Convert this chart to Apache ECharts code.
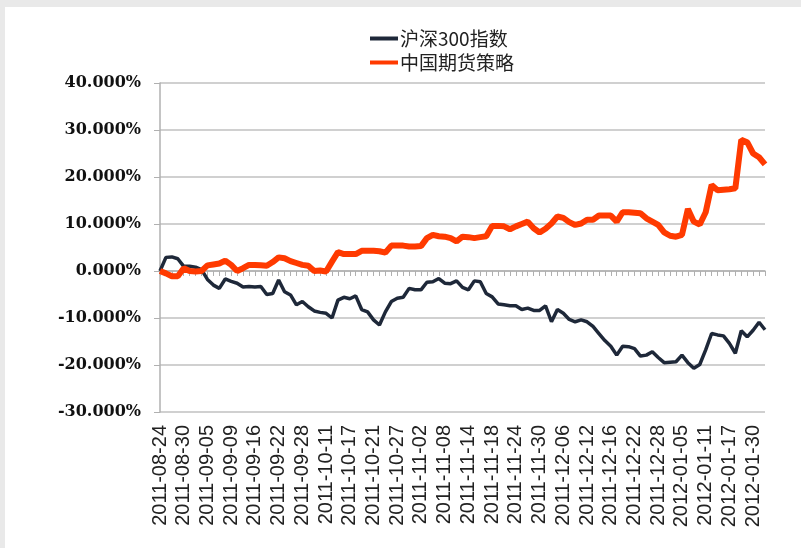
<!DOCTYPE html>
<html>
<head>
<meta charset="utf-8">
<script src="https://cdn.jsdelivr.net/npm/echarts@6/dist/echarts.min.js"></script>
<style>
    html, body { margin: 0; padding: 0; background: #e9e9e9; }
    #main { position: absolute; left: 5px; top: 7px; width: 796px; height: 541px; background: #fff; }
</style>
</head>
<body>
<div id="main"></div>
<script>
// 交易日
var dates = [
    "2011-08-24", "2011-08-25", "2011-08-26", "2011-08-29", "2011-08-30", "2011-08-31",
    "2011-09-01", "2011-09-02", "2011-09-05", "2011-09-06", "2011-09-07", "2011-09-08", "2011-09-09",
    "2011-09-13", "2011-09-14", "2011-09-15", "2011-09-16", "2011-09-19", "2011-09-20", "2011-09-21",
    "2011-09-22", "2011-09-23", "2011-09-26", "2011-09-27", "2011-09-28", "2011-09-29", "2011-09-30",
    "2011-10-10", "2011-10-11", "2011-10-12", "2011-10-13", "2011-10-14", "2011-10-17", "2011-10-18",
    "2011-10-19", "2011-10-20", "2011-10-21", "2011-10-24", "2011-10-25", "2011-10-26", "2011-10-27",
    "2011-10-28", "2011-10-31", "2011-11-01", "2011-11-02", "2011-11-03", "2011-11-04", "2011-11-07",
    "2011-11-08", "2011-11-09", "2011-11-10", "2011-11-11", "2011-11-14", "2011-11-15", "2011-11-16",
    "2011-11-17", "2011-11-18", "2011-11-21", "2011-11-22", "2011-11-23", "2011-11-24", "2011-11-25",
    "2011-11-28", "2011-11-29", "2011-11-30", "2011-12-01", "2011-12-02", "2011-12-05", "2011-12-06",
    "2011-12-07", "2011-12-08", "2011-12-09", "2011-12-12", "2011-12-13", "2011-12-14", "2011-12-15",
    "2011-12-16", "2011-12-19", "2011-12-20", "2011-12-21", "2011-12-22", "2011-12-23", "2011-12-26",
    "2011-12-27", "2011-12-28", "2011-12-29", "2011-12-30", "2012-01-04", "2012-01-05", "2012-01-06",
    "2012-01-09", "2012-01-10", "2012-01-11", "2012-01-12", "2012-01-13", "2012-01-16", "2012-01-17",
    "2012-01-18", "2012-01-19", "2012-01-20", "2012-01-30", "2012-01-31", "2012-02-01"
];

// 沪深300指数 累计收益(%)
var hs300 = [
    0, 2.9, 3.0, 2.6, 1.0, 1.0, 0.8, 0.3, -1.8, -3.0, -3.7, -1.7, -2.2, -2.6, -3.4, -3.3, -3.4, -3.3,
    -5.0, -4.8, -1.9, -4.4, -5.1, -7.2, -6.5, -7.6, -8.5, -8.8, -9.0, -10.0, -6.2, -5.6, -5.9, -5.3,
    -8.2, -8.7, -10.4, -11.5, -8.7, -6.5, -5.8, -5.6, -3.7, -4.0, -4.0, -2.4, -2.3, -1.6, -2.6, -2.7,
    -2.1, -3.5, -4.0, -2.1, -2.3, -4.8, -5.5, -7.0, -7.2, -7.4, -7.4, -8.2, -7.9, -8.4, -8.4, -7.4,
    -10.8, -8.2, -9.0, -10.3, -10.8, -10.4, -10.8, -11.8, -13.3, -14.8, -16.0, -17.9, -16.0, -16.1,
    -16.5, -18.1, -17.9, -17.2, -18.4, -19.5, -19.4, -19.3, -17.9, -19.5, -20.7, -19.9, -16.8, -13.3,
    -13.6, -13.8, -15.4, -17.5, -12.7, -14.0, -12.6, -10.9, -12.5
];

// 中国期货策略 累计收益(%)
var futures = [
    0, -0.5, -1.1, -1.1, 0.6, 0.0, -0.1, 0.0, 1.2, 1.4, 1.6, 2.2, 1.3, 0.0, 0.6, 1.3, 1.3, 1.2,
    1.1, 1.9, 2.9, 2.7, 2.1, 1.7, 1.3, 1.1, 0.0, 0.1, -0.1, 2.0, 4.0, 3.6, 3.6, 3.6, 4.3, 4.3,
    4.3, 4.2, 3.9, 5.4, 5.4, 5.4, 5.2, 5.2, 5.3, 7.0, 7.7, 7.4, 7.3, 7.0, 6.3, 7.3, 7.2, 7.0,
    7.2, 7.4, 9.6, 9.6, 9.5, 8.9, 9.5, 10.0, 10.5, 9.1, 8.2, 9.0, 10.1, 11.6, 11.3, 10.4, 9.8,
    10.1, 10.9, 10.9, 11.8, 11.8, 11.8, 10.5, 12.5, 12.5, 12.4, 12.3, 11.2, 10.5, 9.8, 8.2, 7.5,
    7.3, 7.7, 13.2, 10.5, 9.9, 12.5, 18.3, 17.2, 17.3, 17.4, 17.6, 27.9, 27.4, 25.0, 24.2, 22.7
];

var names = ["沪深300指数", "中国期货策略"];

var myEcharts = echarts.init(document.getElementById("main"));
var option = {
    animation: false,
    legend: {
        orient: "vertical",
        left: 360,
        top: 17,
        itemWidth: 28,
        itemHeight: 4,
        itemGap: 5,
        data: names,
        icon: "rect",
        textStyle: { fontFamily: "Noto Sans CJK SC", fontSize: 19, color: "#222", padding: [0, 0, 0, -3] }
    },
    grid: { left: 155, right: 36, top: 76, bottom: 136 },
    xAxis: {
        type: "category",
        data: dates,
        boundaryGap: false,
        axisLine: { lineStyle: { color: "#b0b0b0", width: 1.5 } },
        axisTick: { show: true, interval: 0, length: 5, lineStyle: { color: "#b0b0b0" } },
        axisLabel: {
            interval: 3,
            rotate: 90,
            margin: 13,
            padding: [10, 0, 0, 0],  // 标签整体右移一点
            fontFamily: "Liberation Sans",
            fontSize: 20,
            color: "#222"
        }
    },
    yAxis: {
        type: "value",
        min: -30,
        max: 40,
        interval: 10,
        axisLine: { show: true, lineStyle: { color: "#b0b0b0", width: 1.5 } },
        axisTick: { show: true, length: 6, lineStyle: { color: "#b0b0b0" } },
        splitLine: { lineStyle: { color: "#c0c0c0", width: 1.5 } },
        axisLabel: {
            margin: 19,
            fontFamily: "DejaVu Serif",
            fontWeight: "bold",
            fontSize: 16,
            color: "#111",
            formatter: function (v) { return v.toFixed(3) + "%"; }
        }
    },
    series: [{
        name: names[0],
        type: "line",
        data: hs300,
        showSymbol: false,
        color: "#1e2839",
        lineStyle: { width: 3.5, color: "#1e2839" }
    }, {
        name: names[1],
        type: "line",
        data: futures,
        showSymbol: false,
        color: "#ff3a00",
        lineStyle: { width: 6, color: "#ff3a00" }
    }]
};
myEcharts.setOption(option);
</script>
</body>
</html>
